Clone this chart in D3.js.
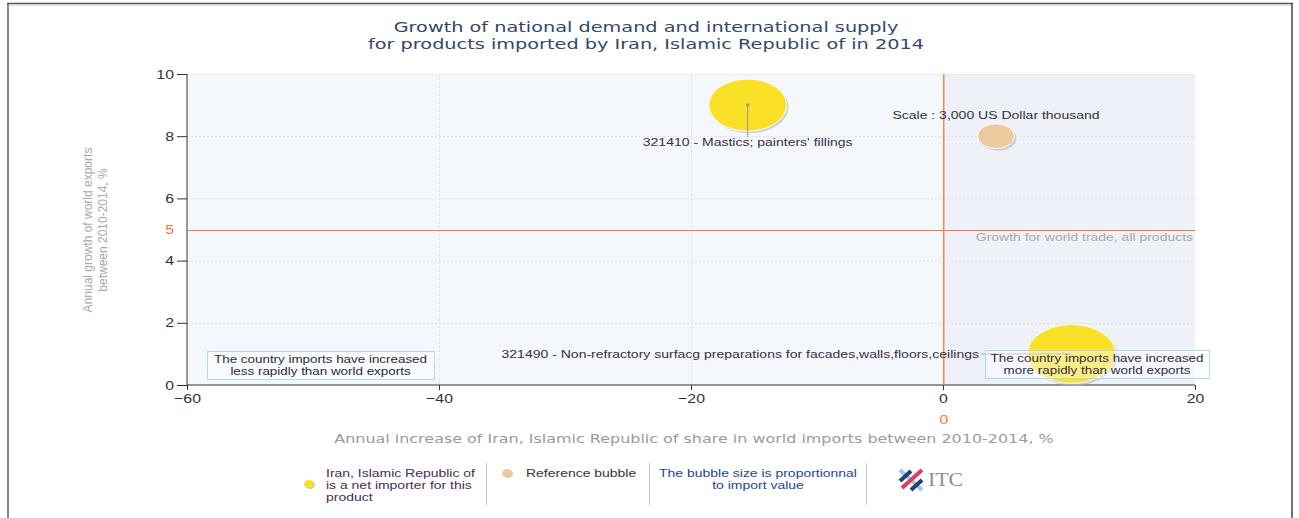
<!DOCTYPE html>
<html>
<head>
<meta charset="utf-8">
<script src="https://cdn.jsdelivr.net/npm/d3@7"></script>
<style>
  body { margin: 0; background: #fff; }
  svg { display: block; }
</style>
</head>
<body>
<div id="main"></div>
<script>
const ctx = {
    w: 1299,
    h: 518,
    left: 187,
    right: 1195,
    top: 74,
    bottom: 385,
    orange: "#f47a36",
    yellow: "#fae026",
    tan: "#ebcb9d",
    SANS: "Liberation Sans, Arial, sans-serif",
    VERD: "DejaVu Sans, Verdana, sans-serif",
    // the source picture is stretched horizontally, so text is too
    SX_SANS: 1.22,
    SX_VERD: 1.33,
    SX_LEG: 1.27
};

// products: [code - name], x = annual increase of share (%), y = world export growth (%), import value
const PRODUCTS = ["321410 - Mastics; painters' fillings",
                  "321490 - Non-refractory surfacg preparations for facades,walls,floors,ceilings"];
const PRODUCT_X = [-15.5, 10.2];
const PRODUCT_Y = [9.0, 1.0];
const PRODUCT_VALUE = [13300, 17000];

const REF_VALUE = 3000;
const REF_X = 4.2;
const REF_Y = 8;

const WORLD_GROWTH = 5;
const X_TICKS = [-60, -40, -20, 0, 20];
const Y_TICKS = [0, 2, 4, 6, 8, 10];

const x = d3.scaleLinear().domain([-60, 20]).range([ctx.left, ctx.right]);
const y = d3.scaleLinear().domain([0, 10]).range([ctx.bottom, ctx.top]);
const rx = d3.scaleSqrt().domain([0, REF_VALUE]).range([0, 18.5]);
const RY_RATIO = 0.67;

// text placed at (tx,ty), stretched horizontally by sx; lines go down by lh
function sText(parent, tx, ty, sx, anchor, lines, lh) {
    let g = parent.append("g").attr("transform", `translate(${tx},${ty}) scale(${sx},1)`);
    let t = g.append("text").attr("text-anchor", anchor);
    lines.forEach((l, j) => {
        t.append("tspan").attr("x", 0).attr("y", j * (lh || 0)).text(l);
    });
    return t;
}

function drawBubble(g, cx, cy, r, color) {
    // soft shadow bottom-right
    g.append("ellipse")
     .attr("cx", cx + 2).attr("cy", cy + 2)
     .attr("rx", r).attr("ry", r * RY_RATIO)
     .attr("fill", "#b8b8b8").attr("opacity", 0.6);
    g.append("ellipse")
     .attr("cx", cx).attr("cy", cy)
     .attr("rx", r).attr("ry", r * RY_RATIO)
     .attr("fill", color)
     .attr("stroke", "#fff").attr("stroke-width", 1);
}

function createViz() {
    let svgEl = d3.select("#main").append("svg")
                  .attr("width", ctx.w).attr("height", ctx.h);

    // outer frame
    svgEl.append("line").attr("x1", 8).attr("x2", 8).attr("y1", 3).attr("y2", ctx.h)
         .attr("stroke", "#8a8a8a").attr("stroke-width", 2);
    svgEl.append("line").attr("x1", 7).attr("x2", 1293).attr("y1", 3.5).attr("y2", 3.5)
         .attr("stroke", "#555").attr("stroke-width", 1.5);
    svgEl.append("line").attr("x1", 9).attr("x2", 1291).attr("y1", 5).attr("y2", 5)
         .attr("stroke", "#ccc").attr("stroke-width", 1);
    svgEl.append("line").attr("x1", 1292).attr("x2", 1292).attr("y1", 3).attr("y2", ctx.h)
         .attr("stroke", "#444").attr("stroke-width", 1.5);

    // title
    sText(svgEl, 646, 32, ctx.SX_VERD, "middle",
          ["Growth of national demand and international supply",
           "for products imported by Iran, Islamic Republic of in 2014"], 17)
        .style("font-family", ctx.VERD)
        .style("font-size", "14.5px")
        .style("fill", "#34476b");

    // plot backgrounds
    svgEl.append("rect")
         .attr("x", x(-60)).attr("y", y(10))
         .attr("width", x(0) - x(-60)).attr("height", y(0) - y(10))
         .attr("fill", "#f4f8fc");
    svgEl.append("rect")
         .attr("x", x(0)).attr("y", y(10))
         .attr("width", x(20) - x(0)).attr("height", y(0) - y(10))
         .attr("fill", "#eff1f9");

    // grid
    let grid = svgEl.append("g").attr("id", "grid")
                    .attr("stroke", "#dcdfe4").attr("stroke-dasharray", "2,2");
    grid.selectAll("line.gy")
        .data(Y_TICKS.filter(d => d > 0))
        .enter().append("line")
        .attr("x1", ctx.left).attr("x2", ctx.right)
        .attr("y1", d => y(d) + 0.5).attr("y2", d => y(d) + 0.5);
    grid.selectAll("line.gx")
        .data(X_TICKS.filter(d => d > -60 && d < 20 && d != 0))
        .enter().append("line")
        .attr("x1", d => x(d) + 0.5).attr("x2", d => x(d) + 0.5)
        .attr("y1", ctx.top).attr("y2", ctx.bottom);

    // axes
    let yAxis = svgEl.append("g")
        .attr("transform", `translate(${ctx.left},0)`)
        .call(d3.axisLeft(y).tickValues(Y_TICKS).tickSize(10).tickPadding(5));
    let xAxis = svgEl.append("g")
        .attr("transform", `translate(0,${ctx.bottom})`)
        .call(d3.axisBottom(x).tickValues(X_TICKS).tickSize(5).tickPadding(4));
    [xAxis, yAxis].forEach(a => {
        a.select(".domain").attr("stroke", "#333");
        a.selectAll(".tick line").attr("stroke", "#333");
        a.selectAll("text")
         .attr("transform", `scale(${ctx.SX_SANS},1)`)
         .style("font-family", ctx.SANS)
         .style("font-size", "13px")
         .style("fill", "#333");
    });
    yAxis.selectAll("text").attr("x", -13 / ctx.SX_SANS);
    xAxis.select(".domain").attr("d", `M${ctx.left},0H${ctx.right}`);
    yAxis.select(".domain").attr("d", `M0,${ctx.top}V${ctx.bottom}`);

    // world growth reference lines
    svgEl.append("line")
         .attr("x1", ctx.left).attr("x2", ctx.right)
         .attr("y1", Math.round(y(WORLD_GROWTH)) + 0.5).attr("y2", Math.round(y(WORLD_GROWTH)) + 0.5)
         .attr("stroke", ctx.orange).attr("stroke-width", 1.2);
    svgEl.append("rect")
         .attr("x", Math.round(x(0))).attr("y", ctx.top)
         .attr("width", 1.5).attr("height", ctx.bottom - ctx.top)
         .attr("fill", "#f5894c");
    sText(svgEl, ctx.left - 13, y(WORLD_GROWTH) + 4.5, ctx.SX_SANS, "end", [WORLD_GROWTH])
         .style("font-family", ctx.SANS)
         .style("font-size", "13px").style("fill", ctx.orange);
    sText(svgEl, x(0) + 1, 424, ctx.SX_SANS, "middle", ["0"])
         .style("font-family", ctx.SANS)
         .style("font-size", "13px").style("fill", ctx.orange);
    sText(svgEl, ctx.right - 2, y(WORLD_GROWTH) + 11, ctx.SX_LEG, "end",
          ["Growth for world trade, all products"])
         .style("font-family", ctx.SANS)
         .style("font-size", "11px").style("fill", "#a9a9a9");

    // axis titles
    let yTitle = svgEl.append("text")
        .attr("transform", "translate(92,230) rotate(-90)")
        .attr("text-anchor", "middle")
        .style("font-family", "Liberation Sans Narrow, Liberation Sans, Arial, sans-serif")
        .style("font-size", "12px").style("fill", "#a9a9a9");
    yTitle.append("tspan").attr("x", 0).attr("dy", 0).text("Annual growth of world exports");
    yTitle.append("tspan").attr("x", 0).attr("dy", 15).text("between 2010-2014, %");

    sText(svgEl, 694, 443, ctx.SX_VERD, "middle",
          ["Annual increase of Iran, Islamic Republic of share in world imports between 2010-2014, %"])
         .style("font-family", ctx.VERD)
         .style("font-size", "12px").style("fill", "#9a9a9a");

    // bubbles
    let bub = svgEl.append("g").attr("id", "bubbles");
    drawBubble(bub, x(REF_X), y(REF_Y), rx(REF_VALUE), ctx.tan);
    sText(svgEl, 996, 119, ctx.SX_SANS, "middle",
          [`Scale : ${d3.format(",")(REF_VALUE)} US Dollar thousand`])
         .style("font-family", ctx.SANS)
         .style("font-size", "11.5px").style("fill", "#333");

    PRODUCTS.forEach((p, i) => {
        drawBubble(bub, x(PRODUCT_X[i]), y(PRODUCT_Y[i]), rx(PRODUCT_VALUE[i]), ctx.yellow);
    });

    // labels with leader lines
    let lab = svgEl.append("g").attr("id", "labels")
                   .style("font-family", ctx.SANS)
                   .style("font-size", "11.5px").style("fill", "#3a2d45");
    // first product: label below the bubble
    lab.append("line")
       .attr("x1", x(PRODUCT_X[0])).attr("x2", x(PRODUCT_X[0]))
       .attr("y1", y(PRODUCT_Y[0])).attr("y2", 137)
       .attr("stroke", "#999").attr("stroke-width", 1);
    lab.append("circle")
       .attr("cx", x(PRODUCT_X[0])).attr("cy", y(PRODUCT_Y[0])).attr("r", 1.8)
       .attr("fill", "#999");
    sText(lab, x(PRODUCT_X[0]), 146, ctx.SX_SANS, "middle", [PRODUCTS[0]]);
    // second product: label to the left
    lab.append("line")
       .attr("x1", 982).attr("x2", x(PRODUCT_X[1]))
       .attr("y1", y(PRODUCT_Y[1])).attr("y2", y(PRODUCT_Y[1]))
       .attr("stroke", "#999").attr("stroke-width", 1);
    sText(lab, 979, y(PRODUCT_Y[1]) + 4, ctx.SX_SANS, "end", [PRODUCTS[1]]);

    // quadrant notes
    let notes = [
        {x: 207, y: 351, w: 227, lines: ["The country imports have increased", "less rapidly than world exports"]},
        {x: 985, y: 350, w: 224, lines: ["The country imports have increased", "more rapidly than world exports"]}
    ];
    notes.forEach(n => {
        let g = svgEl.append("g");
        g.append("rect")
         .attr("x", n.x + 0.5).attr("y", n.y + 0.5)
         .attr("width", n.w).attr("height", 28)
         .attr("fill", "rgba(255,255,255,0.45)")
         .attr("stroke", "#a9dcf3").attr("stroke-width", 1);
        sText(g, n.x + n.w / 2, n.y + 12, ctx.SX_SANS, "middle", n.lines, 12)
         .style("font-family", ctx.SANS)
         .style("font-size", "11px").style("fill", "#2c2c3a");
    });

    drawLegend(svgEl);
}

function drawLegend(svgEl) {
    let lg = svgEl.append("g").attr("id", "legend")
                  .style("font-family", ctx.SANS)
                  .style("font-size", "11px");
    // separators
    [486, 649, 866].forEach(sx => {
        lg.append("line").attr("x1", sx + 0.5).attr("x2", sx + 0.5)
          .attr("y1", 463).attr("y2", 505)
          .attr("stroke", "#c8c8c8");
    });
    // net importer
    lg.append("ellipse").attr("cx", 310).attr("cy", 485).attr("rx", 5).attr("ry", 4)
      .attr("fill", "#c9c9c9");
    lg.append("ellipse").attr("cx", 309).attr("cy", 484).attr("rx", 5).attr("ry", 4)
      .attr("fill", ctx.yellow);
    sText(lg, 326, 477, ctx.SX_LEG, "start",
          ["Iran, Islamic Republic of", "is a net importer for this", "product"], 12)
      .style("fill", "#4b2a55");
    // reference bubble
    lg.append("ellipse").attr("cx", 508).attr("cy", 474).attr("rx", 5).attr("ry", 4)
      .attr("fill", "#d0d0d0");
    lg.append("ellipse").attr("cx", 507).attr("cy", 473).attr("rx", 5).attr("ry", 4)
      .attr("fill", ctx.tan);
    sText(lg, 526, 477, ctx.SX_LEG, "start", ["Reference bubble"]).style("fill", "#333");
    // size note
    sText(lg, 758, 477, ctx.SX_LEG, "middle",
          ["The bubble size is proportionnal", "to import value"], 12)
      .style("fill", "#24459a");
    // ITC logo
    let logo = lg.append("g").attr("transform", "translate(898,468)");
    logo.append("line").attr("x1", 2).attr("y1", 2).attr("x2", 24).attr("y2", 22)
        .attr("stroke", "#9fc6e4").attr("stroke-width", 4);
    logo.append("line").attr("x1", 24).attr("y1", 2).attr("x2", 4).attr("y2", 20)
        .attr("stroke", "#e23d5c").attr("stroke-width", 4);
    logo.append("line").attr("x1", 2).attr("y1", 13).attr("x2", 13).attr("y2", 3)
        .attr("stroke", "#23406e").attr("stroke-width", 4);
    logo.append("line").attr("x1", 13).attr("y1", 22).attr("x2", 24).attr("y2", 12)
        .attr("stroke", "#23406e").attr("stroke-width", 4);
    sText(logo, 30, 18, 1.15, "start", ["ITC"])
        .style("font-family", "Liberation Serif, Times New Roman, serif")
        .style("font-size", "19px").style("fill", "#8a8f98");
}

createViz();
</script>
</body>
</html>
